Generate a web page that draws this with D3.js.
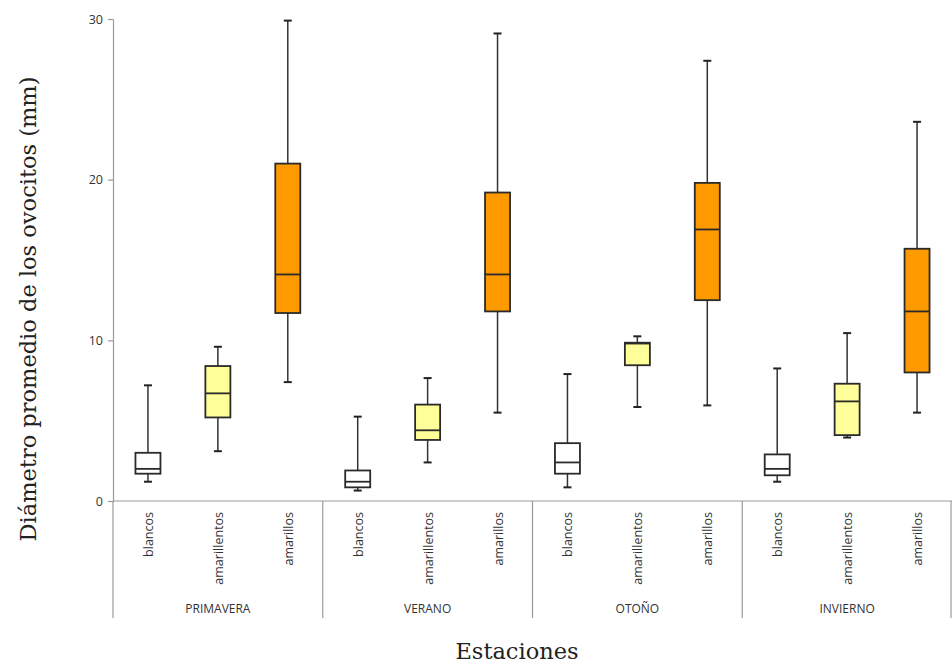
<!DOCTYPE html>
<html>
<head>
<meta charset="utf-8">
<script src="https://cdn.jsdelivr.net/npm/d3@7"></script>
<style>
  body { margin: 0; background: #fff; }
  svg { display: block; }
</style>
</head>
<body>
<div id="chart"></div>
<script>
// seasons and oocyte types
const seasons = ["PRIMAVERA", "VERANO", "OTOÑO", "INVIERNO"];
const types = ["blancos", "amarillentos", "amarillos"];
const typeColors = ["#ffffff", "#ffff99", "#ff9900"];
const yTicks = [0, 10, 20, 30];

// box stats per season, in the order of types: [min, q1, median, q3, max]
const primavera = [[1.2, 1.7, 2.0, 3.0, 7.2], [3.1, 5.2, 6.7, 8.4, 9.6], [7.4, 11.7, 14.1, 21.0, 29.9]];
const verano = [[0.65, 0.85, 1.2, 1.9, 5.25], [2.4, 3.8, 4.4, 6.0, 7.65], [5.5, 11.8, 14.1, 19.2, 29.1]];
const otono = [[0.85, 1.7, 2.4, 3.6, 7.9], [5.85, 8.45, 9.8, 9.85, 10.25], [5.95, 12.5, 16.9, 19.8, 27.4]];
const invierno = [[1.2, 1.6, 2.0, 2.9, 8.25], [3.95, 4.1, 6.2, 7.3, 10.45], [5.5, 8.0, 11.8, 15.7, 23.6]];
const stats = [primavera, verano, otono, invierno];

const width = 952, height = 666;
const margin = { top: 19, right: 0, bottom: 165, left: 113 };

const svg = d3.select("#chart").append("svg")
  .attr("width", width)
  .attr("height", height);

const y = d3.scaleLinear()
  .domain([0, 30])
  .range([height - margin.bottom, margin.top]);

const x0 = d3.scaleBand()
  .domain(seasons)
  .range([margin.left, width - margin.right]);

const x1 = d3.scaleBand()
  .domain(types)
  .range([0, x0.bandwidth()]);

const color = d3.scaleOrdinal().domain(types).range(typeColors);

// y axis
const yAxis = svg.append("g")
  .attr("transform", `translate(${margin.left},0)`)
  .call(d3.axisLeft(y).tickValues(yTicks).tickSize(5).tickSizeOuter(0).tickPadding(5));
yAxis.select(".domain").attr("stroke", "#9a9a9a").attr("stroke-width", 1.2);
yAxis.selectAll(".tick line").attr("stroke", "#9a9a9a").attr("stroke-width", 1.2);
yAxis.selectAll(".tick text")
  .attr("fill", "#333")
  .style("font-family", "'Open Sans', sans-serif")
  .style("font-size", "12.5px");

// baseline
const y0 = y(0);
svg.append("line")
  .attr("x1", margin.left).attr("x2", width)
  .attr("y1", y0).attr("y2", y0)
  .attr("stroke", "#9a9a9a").attr("stroke-width", 1.2);

// group separators
const bounds = seasons.map(s => x0(s)).concat([x0.range()[1] - 1]);
svg.append("g").selectAll("line")
  .data(bounds)
  .join("line")
  .attr("x1", d => d).attr("x2", d => d)
  .attr("y1", y0).attr("y2", y0 + 117)
  .attr("stroke", "#9a9a9a").attr("stroke-width", 1.2);

const groups = svg.append("g").selectAll("g")
  .data(seasons)
  .join("g")
  .attr("transform", s => `translate(${x0(s)},0)`);

// season labels
groups.append("text")
  .attr("x", x0.bandwidth() / 2)
  .attr("y", y0 + 112)
  .attr("text-anchor", "middle")
  .attr("fill", "#333")
  .style("font-family", "'Open Sans', sans-serif")
  .style("font-size", "12px")
  .text(s => s);

// type labels (rotated)
groups.selectAll(".tlabel")
  .data(types)
  .join("text")
  .attr("class", "tlabel")
  .attr("transform", t => `translate(${x1(t) + x1.bandwidth() / 2 + 5},${y0 + 11}) rotate(-90)`)
  .attr("text-anchor", "end")
  .attr("fill", "#333")
  .style("font-family", "'Open Sans', sans-serif")
  .style("font-size", "12.5px")
  .text(t => t);

// boxes
const boxW = 25, capW = 8;
const boxes = groups.selectAll(".box")
  .data((s, i) => stats[i].map((d, j) => ({ type: types[j], v: d })))
  .join("g")
  .attr("class", "box")
  .attr("transform", d => `translate(${x1(d.type) + x1.bandwidth() / 2},0)`);

boxes.append("line")
  .attr("x1", 0).attr("x2", 0)
  .attr("y1", d => y(d.v[0])).attr("y2", d => y(d.v[4]))
  .attr("stroke", "#333").attr("stroke-width", 1.5);

boxes.selectAll(".cap")
  .data(d => [d.v[0], d.v[4]])
  .join("line")
  .attr("class", "cap")
  .attr("x1", -capW / 2).attr("x2", capW / 2)
  .attr("y1", v => y(v)).attr("y2", v => y(v))
  .attr("stroke", "#222").attr("stroke-width", 2);

boxes.append("rect")
  .attr("x", -boxW / 2)
  .attr("width", boxW)
  .attr("y", d => y(d.v[3]))
  .attr("height", d => y(d.v[1]) - y(d.v[3]))
  .attr("fill", d => color(d.type))
  .attr("stroke", "#2a2a2a").attr("stroke-width", 1.8);

boxes.append("line")
  .attr("x1", -boxW / 2).attr("x2", boxW / 2)
  .attr("y1", d => y(d.v[2])).attr("y2", d => y(d.v[2]))
  .attr("stroke", "#2a2a2a").attr("stroke-width", 1.8);

// axis titles
svg.append("text")
  .attr("transform", `translate(36,309) rotate(-90)`)
  .attr("text-anchor", "middle")
  .attr("fill", "#222")
  .style("font-family", "'DejaVu Serif', serif")
  .style("font-size", "22.5px")
  .text("Diámetro promedio de los ovocitos (mm)");

svg.append("text")
  .attr("x", 517)
  .attr("y", 659)
  .attr("text-anchor", "middle")
  .attr("fill", "#222")
  .style("font-family", "'DejaVu Serif', serif")
  .style("font-size", "22.5px")
  .text("Estaciones");
</script>
</body>
</html>
